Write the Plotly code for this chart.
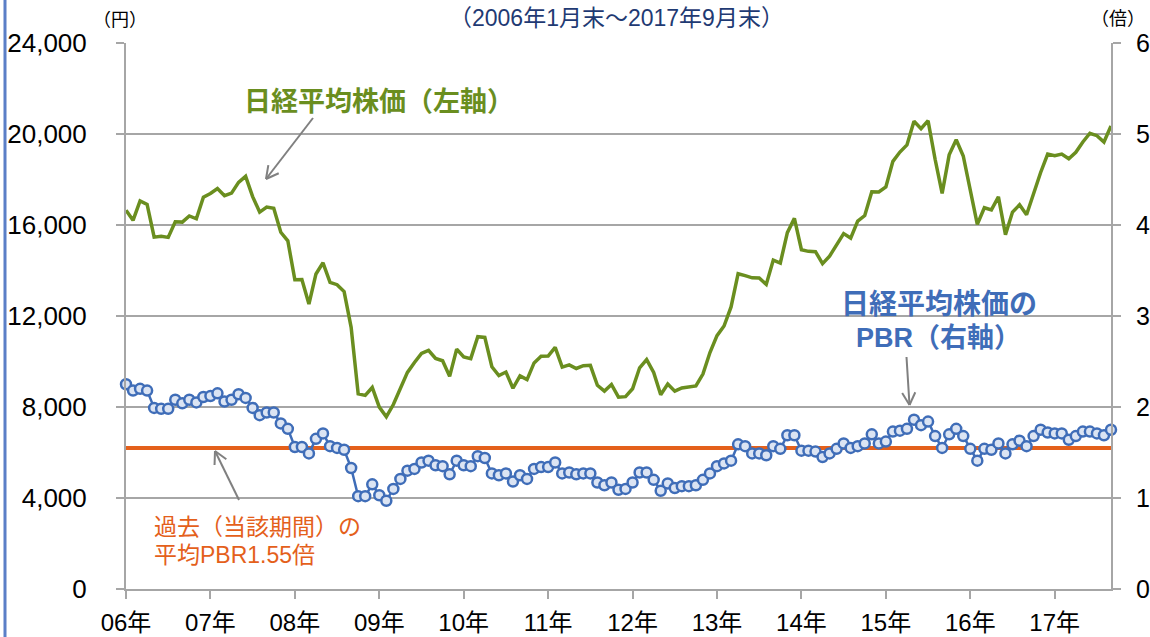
import math
import plotly.graph_objects as go

# ---- data (month-end, Jan 2006 - Sep 2017) ----
nikkei = [16650, 16205, 17059, 16906, 15467, 15505, 15456, 16140, 16127, 16399, 16274, 17225,
          17383, 17604, 17287, 17400, 17875, 18138, 17248, 16569, 16785, 16737, 15680, 15307,
          13592, 13603, 12525, 13849, 14338, 13481, 13376, 13072, 11500, 8576, 8512, 8859,
          7994, 7568, 8109, 8828, 9522, 9958, 10356, 10492, 10133, 10034, 9345, 10546,
          10198, 10126, 11089, 11057, 9768, 9382, 9537, 8824, 9369, 9202, 9937, 10228,
          10237, 10624, 9755, 9849, 9693, 9816, 9833, 8955, 8700, 8988, 8434, 8455,
          8802, 9723, 10083, 9520, 8542, 9006, 8695, 8839, 8870, 8928, 9446, 10395,
          11138, 11559, 12397, 13860, 13774, 13677, 13668, 13389, 14456, 14327, 15662, 16291,
          14915, 14841, 14828, 14304, 14632, 15162, 15621, 15425, 16174, 16414, 17460, 17451,
          17674, 18798, 19207, 19520, 20563, 20236, 20585, 18890, 17388, 19083, 19747, 19034,
          17518, 16027, 16759, 16666, 17235, 15576, 16569, 16887, 16450, 17425, 18308, 19114,
          19041, 19119, 18909, 19197, 19651, 20033, 19925, 19646, 20356]

pbr = [2.25, 2.18, 2.20, 2.18, 1.99, 1.98, 1.98, 2.08, 2.04, 2.08, 2.05, 2.11,
       2.12, 2.15, 2.06, 2.08, 2.14, 2.10, 1.99, 1.91, 1.94, 1.94, 1.82, 1.76,
       1.56, 1.56, 1.49, 1.65, 1.71, 1.57, 1.55, 1.53, 1.33, 1.02, 1.02, 1.15,
       1.03, 0.97, 1.10, 1.21, 1.30, 1.32, 1.39, 1.41, 1.36, 1.35, 1.26, 1.41,
       1.36, 1.35, 1.46, 1.44, 1.27, 1.25, 1.27, 1.18, 1.25, 1.21, 1.32, 1.34,
       1.34, 1.39, 1.27, 1.28, 1.26, 1.27, 1.27, 1.17, 1.14, 1.17, 1.09, 1.10,
       1.17, 1.28, 1.28, 1.20, 1.08, 1.16, 1.11, 1.13, 1.13, 1.14, 1.20, 1.27,
       1.35, 1.38, 1.41, 1.59, 1.57, 1.49, 1.49, 1.47, 1.57, 1.54, 1.69, 1.69,
       1.52, 1.52, 1.51, 1.45, 1.49, 1.54, 1.60, 1.55, 1.57, 1.60, 1.70, 1.60,
       1.62, 1.73, 1.74, 1.76, 1.86, 1.80, 1.84, 1.68, 1.55, 1.70, 1.76, 1.68,
       1.54, 1.41, 1.54, 1.53, 1.60, 1.49, 1.59, 1.63, 1.57, 1.68, 1.75, 1.72,
       1.71, 1.71, 1.64, 1.68, 1.73, 1.73, 1.71, 1.69, 1.75]

avg_pbr = 1.55
year_labels = ["06年", "07年", "08年", "09年", "10年", "11年",
               "12年", "13年", "14年", "15年", "16年", "17年"]

months = list(range(len(nikkei)))
year_ticks = [12 * k for k in range(len(year_labels))]

GREEN = "#6a8e1f"
BLUE = "#3f6db8"
ORANGE = "#e4601b"
GRID = "#a6a6a6"
ARROW = "#808080"
FONT = "Liberation Sans, Noto Sans CJK JP, sans-serif"
JFONT = "Noto Sans CJK JP, Liberation Sans, sans-serif"

W, H = 1150, 637
L, R, T, B = 126, 1111, 43, 589


def px(x):
    return (x - L) / (R - L)


def py(y):
    return (B - y) / (B - T)


fig = go.Figure()

fig.add_trace(go.Scatter(
    x=months, y=nikkei, mode="lines", name="日経平均株価",
    line=dict(color=GREEN, width=3.5), yaxis="y"))

fig.add_trace(go.Scatter(
    x=[months[0], months[-1]], y=[avg_pbr, avg_pbr], mode="lines", name="平均PBR",
    line=dict(color=ORANGE, width=4), yaxis="y2"))

fig.add_trace(go.Scatter(
    x=months, y=pbr, mode="lines+markers", name="PBR",
    line=dict(color=BLUE, width=2.5),
    marker=dict(symbol="circle", size=10, color="#dbe4f3",
                line=dict(color=BLUE, width=2.5)),
    cliponaxis=False, yaxis="y2"))

annotations = [
    dict(x=px(616), y=py(18), text="（2006年1月末～2017年9月末）",
         font=dict(family=FONT, size=23, color="#1f3a73")),
    dict(x=px(120), y=py(18), text="（円）", font=dict(family=JFONT, size=18, color="#000")),
    dict(x=px(1118), y=py(17), text="（倍）", font=dict(family=JFONT, size=18, color="#000")),
    dict(x=px(379), y=py(100), text="<b>日経平均株価（左軸）</b>",
         font=dict(family=JFONT, size=27, color=GREEN)),
    dict(x=px(939), y=py(302), text="<b>日経平均株価の</b>",
         font=dict(family=JFONT, size=28, color=BLUE)),
    dict(x=px(938), y=py(338), text="<b>PBR（右軸）</b>",
         font=dict(family=FONT, size=27, color=BLUE)),
    dict(x=px(152), y=py(525), text="過去（当該期間）の", xanchor="left",
         font=dict(family=JFONT, size=23, color=ORANGE)),
    dict(x=px(152), y=py(555), text="平均PBR1.55倍", xanchor="left",
         font=dict(family=FONT, size=23, color=ORANGE)),
]
for a in annotations:
    a.update(xref="paper", yref="paper", showarrow=False)
    a.setdefault("xanchor", "center")
    a.setdefault("yanchor", "middle")

shapes = []


def arrow(x0, y0, x1, y1, head=14, ang=28):
    shapes.append(dict(type="line", xref="paper", yref="paper",
                       x0=px(x0), y0=py(y0), x1=px(x1), y1=py(y1),
                       line=dict(color=ARROW, width=2)))
    th = math.atan2(y0 - y1, x0 - x1)
    for s in (-1, 1):
        a = th + s * math.radians(ang)
        hx, hy = x1 + head * math.cos(a), y1 + head * math.sin(a)
        shapes.append(dict(type="line", xref="paper", yref="paper",
                           x0=px(x1), y0=py(y1), x1=px(hx), y1=py(hy),
                           line=dict(color=ARROW, width=2)))


arrow(313, 118, 266, 179)
arrow(239, 500, 215, 451)
arrow(906.5, 357, 909.5, 405)

# left slide border
shapes.append(dict(type="line", xref="paper", yref="paper",
                   x0=px(5), x1=px(5), y0=py(0), y1=py(637),
                   line=dict(color="#5b7fc7", width=3)))

axis_common = dict(zeroline=False, showline=True, linecolor=GRID, linewidth=2,
                   ticks="outside", ticklen=8, tickcolor=GRID, tickwidth=2,
                   automargin=False)

fig.update_layout(
    width=W, height=H,
    margin=dict(l=L, r=W - R, t=T, b=H - B),
    plot_bgcolor="white", paper_bgcolor="white",
    showlegend=False,
    font=dict(family=FONT, size=26, color="#000"),
    xaxis=dict(range=[0, months[-1]], tickvals=year_ticks, ticktext=year_labels,
               showgrid=False, tickfont=dict(family=FONT, size=24),
               ticklabelstandoff=3, **axis_common),
    yaxis=dict(range=[0, 24000], dtick=4000, tickformat=",",
               showgrid=True, gridcolor=GRID, gridwidth=2,
               tickfont=dict(family=FONT, size=26), ticklabelstandoff=24, **axis_common),
    yaxis2=dict(range=[0, 6], dtick=1, overlaying="y", side="right",
                showgrid=False, tickfont=dict(family=FONT, size=25),
                ticklabelstandoff=10, **axis_common),
    annotations=annotations, shapes=shapes,
)

fig.write_html("out.html", config={"displayModeBar": False},
               post_script="document.body.style.margin='0';document.body.style.overflow='hidden';")
